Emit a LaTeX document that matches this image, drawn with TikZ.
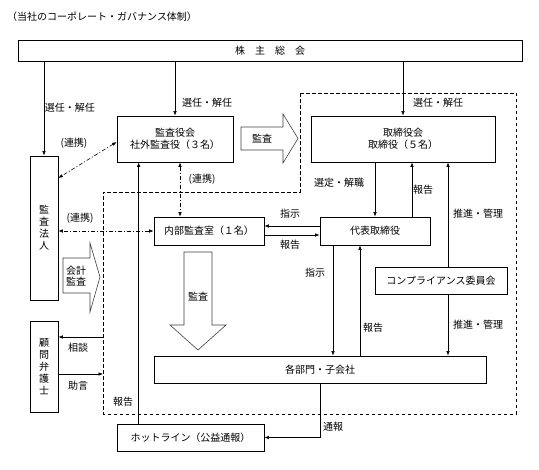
\documentclass[tikz,border=0pt]{standalone}
\usepackage{fontspec}
\setmainfont{Noto Sans CJK JP}
\usetikzlibrary{arrows.meta,calc}
\begin{document}
\begin{tikzpicture}[x=1pt,y=-1pt,
  font=\fontsize{10}{12}\selectfont,
  box/.style={draw, line width=0.7pt, inner sep=0pt, align=center, fill=white},
  vbox/.style={box, font=\fontsize{10}{12}\selectfont},
  arr/.style={-{Latex[length=4.5pt,width=3.5pt]}, line width=0.6pt},
  plain/.style={line width=0.6pt},
  dd/.style={{Latex[length=4.5pt,width=3.5pt]}-{Latex[length=4.5pt,width=3.5pt]}, line width=0.6pt, dash pattern=on 4pt off 2pt on 1pt off 2pt},
  region/.style={line width=0.7pt, dash pattern=on 3.5pt off 2.5pt},
  big/.style={draw=black!75, line width=0.6pt, fill=white, line join=miter},
  lbl/.style={inner sep=0pt}]
\useasboundingbox (0,0) rectangle (539,470);

% dashed region
\coordinate (d1) at (300,93);
\coordinate (d2) at (516,93);
\coordinate (d3) at (516,414);
\coordinate (d4) at (103,414);
\coordinate (d5) at (103,192);
\coordinate (d6) at (300,192);
\draw[region] (d1) -- (d2) -- (d3) -- (d4) -- (d5) -- (d6) -- cycle;

% title
\node[lbl, anchor=west] (title) at (7,17) {（当社のコーポレート・ガバナンス体制）};

% boxes
\node[box, minimum width=504pt, minimum height=21pt] (gm) at (270,50.5) {株\quad 主\quad 総\quad 会};
\node[box, minimum width=116pt, minimum height=46pt] (kansa) at (175,139) {監査役会\\社外監査役（３名）};
\node[box, minimum width=184pt, minimum height=46pt] (tori) at (403,139) {取締役会\\取締役（５名）};
\node[vbox, minimum width=28pt, minimum height=144pt] (houjin) at (44,228) {監\\査\\法\\人};
\node[box, minimum width=110pt, minimum height=28pt] (naibu) at (209,231) {内部監査室（１名）};
\node[box, minimum width=110pt, minimum height=28pt] (daihyo) at (375,231) {代表取締役};
\node[box, minimum width=132pt, minimum height=27pt] (comp) at (441,280.5) {コンプライアンス委員会};
\node[box, minimum width=332pt, minimum height=27pt] (kaku) at (320,369.5) {各部門・子会社};
\node[vbox, minimum width=28pt, minimum height=91pt] (bengo) at (44,366.5) {顧\\問\\弁\\護\\士};
\node[box, minimum width=147pt, minimum height=27pt] (hot) at (190.5,437.5) {ホットライン（公益通報）};

% big arrows
\draw[big] (241,127) -- (283,127) -- (283,114) -- (298,138.5) -- (283,163) -- (283,150) -- (241,150) -- cycle;
\node[lbl] (kansaA) at (262,138.5) {監査};
\draw[big] (184,252) -- (212,252) -- (212,325) -- (226,325) -- (198,350) -- (170,325) -- (184,325) -- cycle;
\node[lbl] (kansaB) at (198,297) {監査};
\draw[big] (63,258) -- (90,258) -- (90,243) -- (100,277) -- (90,312) -- (90,293) -- (63,293) -- cycle;
\node[lbl, align=center, font=\fontsize{10}{11}\selectfont] (kaikei) at (76,276) {会計\\監査};

% connectors from shareholders meeting
\draw[arr] (houjin.north |- gm.south) -- (houjin.north);
\draw[arr] (kansa.north |- gm.south) -- (kansa.north);
\draw[arr] (tori.north |- gm.south) -- (tori.north);
\node[lbl] (l1) at (70,108) {選任・解任};
\node[lbl] (l2) at (207,103) {選任・解任};
\node[lbl] (l3) at (438,103) {選任・解任};

% cooperation links
\draw[dd] ([yshift=-3pt]kansa.west) -- ([yshift=50pt]houjin.east);
\node[lbl] (r1) at (74,143) {(連携)};
\draw[dd] ([xshift=5pt]kansa.south) -- ([xshift=5pt]kansa.south |- naibu.north);
\node[lbl] (r2) at (202,179) {(連携)};
\draw[dd] (naibu.west) -- (naibu.west -| houjin.east);
\node[lbl] (r3) at (80,218) {(連携)};

% internal audit <-> representative director
\draw[arr] ([yshift=5pt]daihyo.west) -- ([yshift=5pt]naibu.east);
\node[lbl] (s1) at (290,214) {指示};
\draw[arr] ([yshift=-4pt]naibu.east) -- ([yshift=-4pt]daihyo.west);
\node[lbl] (h1) at (290,245) {報告};

% board <-> representative director
\draw[arr] (daihyo.north |- tori.south) -- (daihyo.north);
\node[lbl] (sentei) at (339,183) {選定・解職};
\draw[arr] ([xshift=37pt]daihyo.north) -- ([xshift=37pt]daihyo.north |- tori.south);
\node[lbl] (h2) at (423,190) {報告};

% compliance committee
\draw[arr] ([xshift=7pt]comp.north) -- ([xshift=7pt]comp.north |- tori.south);
\node[lbl] (p1) at (478,214) {推進・管理};
\draw[arr] ([xshift=7pt]comp.south) -- ([xshift=7pt]comp.south |- kaku.north);
\node[lbl] (p2) at (478,325) {推進・管理};

% representative director <-> departments
\draw[arr] ([xshift=-42pt]daihyo.south) -- ([xshift=-42pt]daihyo.south |- kaku.north);
\node[lbl] (s2) at (315,273) {指示};
\draw[arr] ([xshift=-15pt]daihyo.south |- kaku.north) -- ([xshift=-15pt]daihyo.south);
\node[lbl] (h3) at (373,328) {報告};

% legal counsel
\coordinate (soudanL) at (103,337);
\coordinate (jogenR) at (103,374);
\draw[arr] (soudanL) -- (soudanL -| bengo.east);
\node[lbl] (soudan) at (78,348) {相談};
\draw[arr] (jogenR -| bengo.east) -- (jogenR);
\node[lbl] (jogen) at (78,386) {助言};

% hotline
\draw[arr] ([xshift=22pt]hot.north west) -- ([xshift=22pt]hot.north west |- kansa.south);
\node[lbl] (h4) at (123,402) {報告};
\draw[arr] (kaku.south) |- (hot.east);
\node[lbl] (tsuho) at (333,427) {通報};
\end{tikzpicture}
\end{document}
